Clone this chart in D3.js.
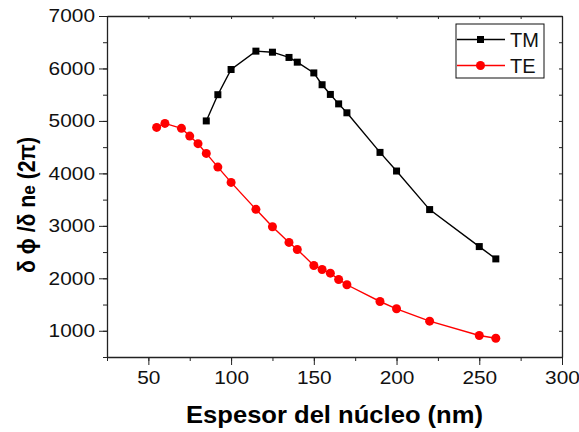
<!DOCTYPE html>
<html>
<head>
<meta charset="utf-8">
<script src="https://cdn.jsdelivr.net/npm/d3@7"></script>
<style>
  body { margin: 0; background: #fff; }
  text { font-family: "Liberation Sans", Arial, sans-serif; }
</style>
</head>
<body>
<div id="vis"></div>
<script>
// Frame constants
const FRAME_WIDTH = 579;
const FRAME_HEIGHT = 432;
const MARGINS = {left: 107, right: 17, top: 16, bottom: 75};

// Data
const xTM = [85, 92, 100, 115, 125, 135, 140, 150, 155, 160, 165, 170, 190, 200, 220, 250, 260];
const yTM = [5000, 5500, 5980, 6330, 6310, 6210, 6120, 5915, 5690, 5505, 5325, 5155, 4400, 4045, 3310, 2605, 2370];
const xTE = [55, 60, 70, 75, 80, 85, 92, 100, 115, 125, 135, 140, 150, 155, 160, 165, 170, 190, 200, 220, 250, 260];
const yTE = [4877, 4953, 4858, 4711, 4566, 4381, 4120, 3828, 3315, 2983, 2684, 2550, 2245, 2168, 2098, 1978, 1877, 1558, 1419, 1183, 910, 858];
const xTicks = [50, 100, 150, 200, 250, 300];
const yTicks = [1000, 2000, 3000, 4000, 5000, 6000, 7000];
const seriesNames = ["TM", "TE"];

const VIS_WIDTH = FRAME_WIDTH - MARGINS.left - MARGINS.right;
const VIS_HEIGHT = FRAME_HEIGHT - MARGINS.top - MARGINS.bottom;

const FRAME = d3.select("#vis")
  .append("svg")
    .attr("width", FRAME_WIDTH)
    .attr("height", FRAME_HEIGHT);

const X_SCALE = d3.scaleLinear().domain([25, 300]).range([0, VIS_WIDTH]);
const Y_SCALE = d3.scaleLinear().domain([500, 7000]).range([VIS_HEIGHT, 0]);

const G = FRAME.append("g")
  .attr("transform", "translate(" + MARGINS.left + "," + MARGINS.top + ")");

// minor ticks
const xMinor = d3.range(25, 301, 25);
const yMinor = d3.range(500, 7001, 500);

// bottom axis: minor then major
G.append("g")
  .attr("transform", "translate(0," + VIS_HEIGHT + ")")
  .call(d3.axisBottom(X_SCALE).tickValues(xMinor).tickSize(4).tickFormat(""))
  .call(g => g.select(".domain").remove());
const xAxis = G.append("g")
  .attr("transform", "translate(0," + VIS_HEIGHT + ")")
  .call(d3.axisBottom(X_SCALE).tickValues(xTicks).tickSize(8).tickPadding(6)
    .tickSizeOuter(0).tickFormat(d3.format("d")));
xAxis.selectAll("text")
  .attr("font-size", "18px")
  .attr("fill", "#111")
  .attr("textLength", d => String(d).length * 11.6)
  .attr("lengthAdjust", "spacingAndGlyphs");

// left axis
G.append("g")
  .call(d3.axisLeft(Y_SCALE).tickValues(yMinor).tickSize(4).tickFormat(""))
  .call(g => g.select(".domain").remove());
const yAxis = G.append("g")
  .call(d3.axisLeft(Y_SCALE).tickValues(yTicks).tickSize(8).tickPadding(4)
    .tickSizeOuter(0).tickFormat(d3.format("d")));
yAxis.selectAll("text")
  .attr("font-size", "18px")
  .attr("fill", "#111")
  .attr("textLength", d => String(d).length * 11.6)
  .attr("lengthAdjust", "spacingAndGlyphs");

// top and right axes, inward ticks
G.append("g")
  .call(d3.axisBottom(X_SCALE).tickValues(xMinor).tickSize(3).tickFormat("").tickSizeOuter(0));
G.append("g")
  .attr("transform", "translate(" + VIS_WIDTH + ",0)")
  .call(d3.axisLeft(Y_SCALE).tickValues(yMinor).tickSize(3).tickFormat("").tickSizeOuter(0));

G.selectAll(".domain").attr("stroke", "#222").attr("stroke-width", 1.3);
G.selectAll(".tick line").attr("stroke", "#222");

// lines and markers
const line = d3.line().x(d => X_SCALE(d[0])).y(d => Y_SCALE(d[1]));
const tm = xTM.map((x, i) => [x, yTM[i]]);
const te = xTE.map((x, i) => [x, yTE[i]]);

G.append("path").datum(tm)
  .attr("d", line).attr("fill", "none").attr("stroke", "black").attr("stroke-width", 1.4);
G.append("path").datum(te)
  .attr("d", line).attr("fill", "none").attr("stroke", "#ff0000").attr("stroke-width", 1.4);

G.selectAll(".sq").data(tm).enter().append("rect")
  .attr("x", d => X_SCALE(d[0]) - 3.5)
  .attr("y", d => Y_SCALE(d[1]) - 3.5)
  .attr("width", 7).attr("height", 7)
  .attr("fill", "black");
G.selectAll(".ci").data(te).enter().append("circle")
  .attr("cx", d => X_SCALE(d[0]))
  .attr("cy", d => Y_SCALE(d[1]))
  .attr("r", 4.5)
  .attr("fill", "#ff0000");

// legend
const LEG = FRAME.append("g").attr("transform", "translate(456,24)");
LEG.append("rect")
  .attr("width", 88).attr("height", 54)
  .attr("fill", "white").attr("stroke", "#111").attr("stroke-width", 1);
const colors = ["black", "#ff0000"];
seriesNames.forEach((name, i) => {
  const yy = 15.5 + i * 26;
  LEG.append("line").attr("x1", 1).attr("x2", 49).attr("y1", yy).attr("y2", yy)
    .attr("stroke", colors[i]).attr("stroke-width", 1.4);
  if (i === 0) {
    LEG.append("rect").attr("x", 21).attr("y", yy - 3.5).attr("width", 7).attr("height", 7).attr("fill", "black");
  } else {
    LEG.append("circle").attr("cx", 24.5).attr("cy", yy).attr("r", 4.5).attr("fill", "#ff0000");
  }
  LEG.append("text").attr("x", 54).attr("y", yy + 7.5)
    .attr("font-size", "20px").attr("fill", "#111").text(name);
});

// axis titles
FRAME.append("text")
  .attr("x", 186).attr("y", 423)
  .attr("font-size", "24px").attr("font-weight", "bold")
  .attr("textLength", 297).attr("lengthAdjust", "spacingAndGlyphs")
  .text("Espesor del núcleo (nm)");

const yTitle = FRAME.append("text")
  .attr("transform", "translate(35,273) rotate(-90) scale(1,1.2)")
  .attr("font-size", "20px").attr("font-weight", "bold")
  .attr("textLength", 136).attr("lengthAdjust", "spacingAndGlyphs");
yTitle.append("tspan").text("δ ϕ /δ n");
yTitle.append("tspan").attr("font-size", "16px").text("e");
yTitle.append("tspan").text(" (2π)");
</script>
</body>
</html>
